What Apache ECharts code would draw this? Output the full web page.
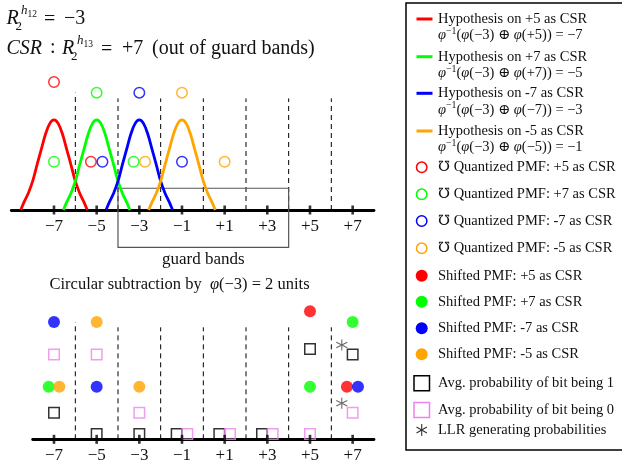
<!DOCTYPE html>
<html><head><meta charset="utf-8">
<script src="https://cdn.jsdelivr.net/npm/echarts@6/dist/echarts.min.js"></script>
<style>html,body{margin:0;padding:0;background:#fff}#c{width:622px;height:466px}</style>
</head><body><div id="c"></div>
<script>
// ---------- data ----------
const tickValues = [-7, -5, -3, -1, 1, 3, 5, 7];
const tickLabels = ['−7', '−5', '−3', '−1', '+1', '+3', '+5', '+7'];
const dividerX = [-6, -4, -2, 0, 2, 4, 6];
const dividerTopUpper = [5.5, 5.23, 5.23, 5.23, 5.23, 5.23, 5.23];
const dividerTopLower = [5.5, 5.25, 5.25, 5.25, 5.25, 5.25, 5.25];
const guardBandX = [-4, 4];
const guardBandY = [-1.75, 1.02];

// Hypothesis curves (x, height)
const curveRedX    = [-8.56, -8.4, -8.2, -8.0, -7.8, -7.6, -7.4, -7.2, -7.0, -6.8, -6.6, -6.4, -6.2, -6.0, -5.8, -5.6, -5.44];
const curveRedY    = [0, 0.38, 0.8, 1.35, 2.1, 2.83, 3.55, 4.05, 4.22, 4.05, 3.55, 2.83, 2.1, 1.35, 0.8, 0.38, 0];
const curveGreenX  = [-6.56, -6.4, -6.2, -6.0, -5.8, -5.6, -5.4, -5.2, -5.0, -4.8, -4.6, -4.4, -4.2, -4.0, -3.8, -3.6, -3.44];
const curveGreenY  = [0, 0.38, 0.8, 1.35, 2.1, 2.83, 3.55, 4.05, 4.22, 4.05, 3.55, 2.83, 2.1, 1.35, 0.8, 0.38, 0];
const curveBlueX   = [-4.56, -4.4, -4.2, -4.0, -3.8, -3.6, -3.4, -3.2, -3.0, -2.8, -2.6, -2.4, -2.2, -2.0, -1.8, -1.6, -1.44];
const curveBlueY   = [0, 0.38, 0.8, 1.35, 2.1, 2.83, 3.55, 4.05, 4.22, 4.05, 3.55, 2.83, 2.1, 1.35, 0.8, 0.38, 0];
const curveOrangeX = [-2.56, -2.4, -2.2, -2.0, -1.8, -1.6, -1.4, -1.2, -1.0, -0.8, -0.6, -0.4, -0.2, 0.0, 0.2, 0.4, 0.56];
const curveOrangeY = [0, 0.38, 0.8, 1.35, 2.1, 2.83, 3.55, 4.05, 4.22, 4.05, 3.55, 2.83, 2.1, 1.35, 0.8, 0.38, 0];

// Quantized PMF (open circles), upper panel
const quantRed    = [[-7, 6.0], [-5.27, 2.26]];
const quantGreen  = [[-5, 5.5], [-7, 2.26], [-3.27, 2.26]];
const quantBlue   = [[-3, 5.5], [-4.73, 2.26], [-1, 2.26]];
const quantOrange = [[-1, 5.5], [-2.73, 2.26], [1, 2.26]];

// Shifted PMF (filled circles), lower panel
const shiftRed    = [[5, 6.0], [6.73, 2.47]];
const shiftGreen  = [[7, 5.5], [-7.25, 2.47], [5, 2.47]];
const shiftBlue   = [[-7, 5.5], [-5, 2.47], [7.25, 2.47]];
const shiftOrange = [[-5, 5.5], [-6.75, 2.47], [-3, 2.47]];

// Average bit probabilities (squares) and LLR points (asterisks)
const avgBit1 = [[-7, 1.25], [-5, 0.25], [-3, 0.25], [-1.25, 0.25], [0.75, 0.25], [2.75, 0.25], [5, 4.23], [7, 3.98]];
const avgBit0 = [[-7, 3.98], [-5, 3.98], [-3, 1.25], [-0.75, 0.25], [1.25, 0.25], [3.25, 0.25], [5, 0.25], [7, 1.25]];
const llrPoints = [[6.49, 4.42], [6.49, 1.69]];

// Legend texts
const hypCsr = ['+5', '+7', '-7', '-5'];
const hypCsrMath = ['+5', '+7', '−7', '−5'];
const hypResult = ['−7', '−5', '−3', '−1'];
const extraLegend = ['Avg. probability of bit being 1', 'Avg. probability of bit being 0', 'LLR generating probabilities'];

// ---------- styling ----------
const C = {red: '#ff0000', green: '#00ff00', blue: '#0000ff', orange: '#ffa500', pink: '#ee82ee', black: '#000'};
const FF = '"Liberation Serif", "DejaVu Serif", serif';
const TXT = '#111';
const UNIT = 21.333;
const ASTER = 'path://M5,0L5,10M0.67,2.5L9.33,7.5M0.67,7.5L9.33,2.5';

const zip = (xs, ys) => xs.map((x, i) => [x, ys[i]]);

function dividerSeries(gi, tops) {
  return {
    type: 'custom', xAxisIndex: gi, yAxisIndex: gi, silent: true, z: 1, clip: false,
    data: zip(dividerX, tops),
    renderItem: (params, api) => {
      const p0 = api.coord([api.value(0), 0]);
      const p1 = api.coord([api.value(0), api.value(1)]);
      return {type: 'line', shape: {x1: p0[0], y1: p0[1], x2: p1[0], y2: p1[1]},
              style: {stroke: '#000', lineWidth: 1, lineDash: [5, 4]}};
    }
  };
}
function tickSeries(gi) {
  return {type: 'scatter', xAxisIndex: gi, yAxisIndex: gi, silent: true, z: 6, clip: false,
    symbol: 'rect', symbolSize: [2.6, 9], itemStyle: {color: '#000'},
    data: tickValues.map(v => [v, 0])};
}
function curve(xs, ys, color) {
  return {type: 'line', xAxisIndex: 0, yAxisIndex: 0, data: zip(xs, ys), showSymbol: false, clip: false,
    smooth: 0.35, silent: true, z: 3, lineStyle: {color, width: 2.8}};
}
function openCircles(data, color) {
  return {type: 'scatter', xAxisIndex: 0, yAxisIndex: 0, data, symbol: 'circle', symbolSize: 10.5, clip: false,
    silent: true, z: 5, itemStyle: {color: 'rgba(0,0,0,0)', borderColor: color, borderWidth: 1.5}};
}
function filledCircles(data, color) {
  return {type: 'scatter', xAxisIndex: 1, yAxisIndex: 1, data, symbol: 'circle', symbolSize: 12, clip: false,
    silent: true, z: 5, itemStyle: {color}};
}
function squares(data, color) {
  return {type: 'scatter', xAxisIndex: 1, yAxisIndex: 1, data, symbol: 'rect', symbolSize: 10.5, clip: false,
    silent: true, z: 5, itemStyle: {color: 'rgba(0,0,0,0)', borderColor: color, borderWidth: 1.5}};
}

function xAxisCfg(gi, min, max) {
  return {gridIndex: gi, type: 'value', min, max, position: 'bottom',
    axisLine: {show: true, onZero: false, lineStyle: {color: '#000', width: 2.8}},
    axisTick: {show: false}, splitLine: {show: false},
    axisLabel: {customValues: tickValues, formatter: v => tickLabels[tickValues.indexOf(v)],
      fontFamily: FF, fontSize: 17, color: TXT, margin: 8}};
}

// ---------- text helpers ----------
function t(x, y, text, size, italic, align) {
  return {type: 'text', x, y, silent: true, z: 10,
    style: {text, fontFamily: FF, fontSize: size, fontStyle: italic ? 'italic' : 'normal',
            fill: TXT, align: align || 'left', verticalAlign: 'middle'}};
}
function rich(x, y, text, size, align) {
  return {type: 'text', x, y, silent: true, z: 10,
    style: {text, align: align || 'left', verticalAlign: 'middle',
      rich: {
        n: {fontFamily: FF, fontSize: size, fill: TXT, color: TXT, lineHeight: size + 4},
        i: {fontFamily: FF, fontSize: size, fontStyle: 'italic', fill: TXT, color: TXT, lineHeight: size + 4},
        s: {fontFamily: FF, fontSize: size * 0.68, fill: TXT, color: TXT, verticalAlign: 'top', lineHeight: size * 0.68}
      }}};
}
function seg(x1, y1, x2, y2, color, w) {
  return {type: 'line', silent: true, z: 10, shape: {x1, y1, x2, y2}, style: {stroke: color, lineWidth: w}};
}

const graphics = [];
// Top-left math annotations
graphics.push(t(6.5, 19, 'R', 20, true), t(15.5, 26.5, '2', 13), t(21, 10.5, 'h', 13, true), t(27.5, 14, '12', 9.5),
  t(44, 19.5, '=', 20), t(64, 19, '−3', 20));
graphics.push(t(6.5, 49, 'CSR', 20, true), t(50, 48, ':', 20), t(62, 49, 'R', 20, true), t(71, 56.5, '2', 13),
  t(77, 40.5, 'h', 13, true), t(83.5, 44, '13', 9.5), t(101, 49.5, '=', 20), t(122, 49, '+7', 20),
  t(152, 49, '(out of guard bands)', 20));
// guard band caption & lower title
graphics.push(t(203.3, 260, 'guard bands', 17, false, 'center'));
graphics.push(rich(49.5, 285, '{n|Circular subtraction by  }{i|φ}{n|(−3) = 2 units}', 16.5));

// Legend box
graphics.push({type: 'rect', silent: true, z: 8, shape: {x: 406, y: 3, width: 240, height: 447},
  style: {fill: '#fff', stroke: '#000', lineWidth: 1.5}});
const lineY = [19, 56.7, 93.3, 131];
const lineColors = [C.red, C.green, C.blue, C.orange];
lineY.forEach((y, i) => {
  graphics.push(seg(416.5, y, 432.5, y, lineColors[i], 3));
  graphics.push(t(438, y, 'Hypothesis on ' + hypCsr[i] + ' as CSR', 14.5));
  graphics.push(rich(438, y + 16.5, '{i|φ}{s|−1}{n|(}{i|φ}{n|(−3) ⊕ }{i|φ}{n|(' + hypCsrMath[i] + ')) = ' + hypResult[i] + '}', 14.5));
});
const openY = [167.3, 194.3, 221, 248.3];
openY.forEach((y, i) => {
  graphics.push({type: 'circle', silent: true, z: 10, shape: {cx: 421.7, cy: y, r: 5.2},
    style: {fill: 'none', stroke: lineColors[i], lineWidth: 1.5}});
  graphics.push(t(438, y, '℧ Quantized PMF: ' + hypCsr[i] + ' as CSR', 14.5));
});
const fillY = [275.7, 301.7, 328.3, 354.3];
fillY.forEach((y, i) => {
  graphics.push({type: 'circle', silent: true, z: 10, shape: {cx: 421.7, cy: y, r: 6},
    style: {fill: lineColors[i]}});
  graphics.push(t(438, y, 'Shifted PMF: ' + hypCsr[i] + ' as CSR', 14.5));
});
graphics.push({type: 'rect', silent: true, z: 10, shape: {x: 414, y: 375.8, width: 15.5, height: 15},
  style: {fill: 'none', stroke: '#000', lineWidth: 1.5}});
graphics.push(t(438, 383.3, extraLegend[0], 14.5));
graphics.push({type: 'rect', silent: true, z: 10, shape: {x: 414, y: 402.5, width: 15.5, height: 15},
  style: {fill: 'none', stroke: C.pink, lineWidth: 1.5}});
graphics.push(t(438, 410, extraLegend[1], 14.5));
graphics.push(seg(421.7, 424, 421.7, 436, '#333', 1.1), seg(416.5, 427, 426.9, 433, '#333', 1.1),
  seg(416.5, 433, 426.9, 427, '#333', 1.1));
graphics.push(t(438, 430, extraLegend[2], 14.5));

const option = {
  animation: false,
  backgroundColor: '#fff',
  grid: [
    {left: 11.33, top: 210 - 6.5 * UNIT, width: 17 * UNIT, height: 6.5 * UNIT, outerBoundsMode: 'none', containLabel: false},
    {left: 32.67, top: 439.33 - 6.5 * UNIT, width: 16 * UNIT, height: 6.5 * UNIT, outerBoundsMode: 'none', containLabel: false}
  ],
  xAxis: [xAxisCfg(0, -9, 8), xAxisCfg(1, -8, 8)],
  yAxis: [
    {gridIndex: 0, type: 'value', min: 0, max: 6.5, show: false},
    {gridIndex: 1, type: 'value', min: 0, max: 6.5, show: false}
  ],
  series: [
    dividerSeries(0, dividerTopUpper),
    {type: 'custom', xAxisIndex: 0, yAxisIndex: 0, silent: true, z: 2, clip: false,
      data: [[guardBandX[0], guardBandY[1], guardBandX[1], guardBandY[0]]],
      renderItem: (params, api) => {
        const a = api.coord([api.value(0), api.value(1)]);
        const b = api.coord([api.value(2), api.value(3)]);
        return {type: 'rect', shape: {x: a[0], y: a[1], width: b[0] - a[0], height: b[1] - a[1]},
          style: {fill: 'none', stroke: '#555', lineWidth: 1.2}};
      }},
    curve(curveRedX, curveRedY, C.red),
    curve(curveGreenX, curveGreenY, C.green),
    curve(curveBlueX, curveBlueY, C.blue),
    curve(curveOrangeX, curveOrangeY, C.orange),
    tickSeries(0),
    openCircles(quantRed, C.red),
    openCircles(quantGreen, C.green),
    openCircles(quantBlue, C.blue),
    openCircles(quantOrange, C.orange),
    dividerSeries(1, dividerTopLower),
    tickSeries(1),
    filledCircles(shiftRed, C.red),
    filledCircles(shiftGreen, C.green),
    filledCircles(shiftBlue, C.blue),
    filledCircles(shiftOrange, C.orange),
    squares(avgBit1, '#000'),
    squares(avgBit0, C.pink),
    {type: 'scatter', xAxisIndex: 1, yAxisIndex: 1, data: llrPoints, symbol: ASTER, symbolSize: 11, clip: false,
      silent: true, z: 5, itemStyle: {color: 'none', borderColor: '#444', borderWidth: 1.1}}
  ],
  graphic: {elements: graphics}
};
const chart = echarts.init(document.getElementById('c'), null, {renderer: 'canvas'});
chart.setOption(option);
</script></body></html>
